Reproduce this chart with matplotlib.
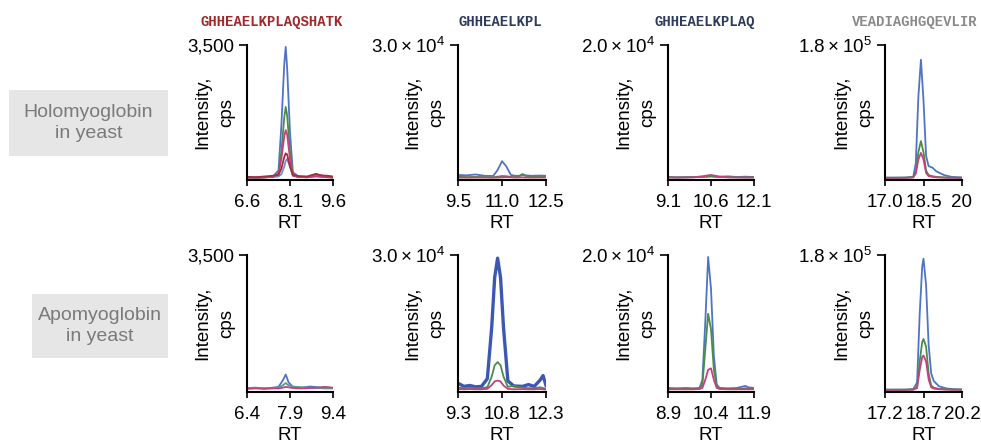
import matplotlib
matplotlib.use('Agg')
import matplotlib.pyplot as plt
from matplotlib.patches import Rectangle

plt.rcParams['font.family'] = ['Liberation Sans', 'DejaVu Sans']
plt.rcParams['mathtext.fontset'] = 'custom'
plt.rcParams['mathtext.rm'] = 'Liberation Sans'

# peptide titles
peptides = ['GHHEAELKPLAQSHATK', 'GHHEAELKPL', 'GHHEAELKPLAQ', 'VEADIAGHGQEVLIR']
peptide_colors = ['#9e2a2b', '#2e3b5e', '#2e3b5e', '#8a8a8a']
row_names = ['Holomyoglobin\nin yeast', 'Apomyoglobin\nin yeast']

# y axis tops and labels
ymax = [3500, 3.0e4, 2.0e4, 1.8e5]
ytop_labels = ['3,500', r'$\mathrm{3.0\times10^{4}}$', r'$\mathrm{2.0\times10^{4}}$',
               r'$\mathrm{1.8\times10^{5}}$']

# x ticks
xticks_holo = [[6.6, 8.1, 9.6], [9.5, 11.0, 12.5], [9.1, 10.6, 12.1], [17.0, 18.5, 20]]
xticks_apo = [[6.4, 7.9, 9.4], [9.3, 10.8, 12.3], [8.9, 10.4, 11.9], [17.2, 18.7, 20.2]]
xlabels_holo = [['6.6', '8.1', '9.6'], ['9.5', '11.0', '12.5'], ['9.1', '10.6', '12.1'], ['17.0', '18.5', '20']]
xlabels_apo = [['6.4', '7.9', '9.4'], ['9.3', '10.8', '12.3'], ['8.9', '10.4', '11.9'], ['17.2', '18.7', '20.2']]

# ---- holomyoglobin traces ----
rt_h1 = [6.6, 6.9, 7.2, 7.5, 7.7, 7.8, 7.9, 7.95, 8.0, 8.1, 8.2, 8.4, 8.7, 9.0, 9.2, 9.4, 9.6]
h1_blue = [20, 10, 15, 40, 200, 1400, 3000, 3450, 2900, 1200, 150, 40, 30, 90, 60, 30, 20]
h1_green = [15, 10, 20, 30, 120, 700, 1600, 1870, 1650, 700, 80, 30, 20, 40, 30, 20, 15]
h1_pink = [10, 10, 15, 30, 100, 500, 1100, 1260, 1150, 500, 60, 25, 20, 50, 40, 20, 10]
h1_red = [30, 20, 40, 60, 80, 250, 550, 650, 620, 300, 80, 50, 40, 110, 70, 60, 40]
h1_blue2 = [20, 15, 20, 30, 40, 100, 300, 450, 500, 300, 60, 30, 20, 60, 40, 30, 20]

rt_h2 = [9.5, 9.8, 10.1, 10.4, 10.7, 10.85, 11.0, 11.15, 11.3, 11.45, 11.6, 11.7, 11.8, 12.0, 12.3, 12.5]
h2_blue = [700, 600, 800, 500, 450, 1800, 3800, 2600, 700, 500, 500, 700, 600, 500, 550, 500]
h2_green = [300, 200, 250, 200, 150, 300, 450, 400, 250, 200, 500, 900, 500, 300, 250, 300]
h2_pink = [100, 80, 100, 100, 80, 100, 150, 200, 150, 100, 120, 150, 100, 90, 100, 100]

rt_h3 = [9.1, 9.4, 9.7, 10.0, 10.3, 10.5, 10.6, 10.7, 10.9, 11.2, 11.5, 11.8, 12.1]
h3_blue = [150, 100, 120, 150, 200, 250, 300, 250, 200, 250, 150, 200, 150]
h3_green = [100, 80, 100, 120, 150, 200, 220, 180, 150, 120, 100, 100, 80]
h3_pink = [80, 60, 80, 100, 250, 400, 450, 380, 200, 100, 80, 60, 80]

rt_h4 = [17.0, 17.4, 17.8, 18.1, 18.2, 18.3, 18.4, 18.5, 18.6, 18.7, 18.85, 19.0, 19.3, 19.6, 20.0]
h4_blue = [500, 500, 600, 1500, 20000, 110000, 160000, 105000, 30000, 16000, 14000, 9000, 4000, 1500, 800]
h4_green = [300, 300, 400, 1000, 8000, 35000, 50000, 35000, 10000, 4000, 2500, 1500, 800, 400, 300]
h4_pink = [200, 200, 300, 800, 6000, 25000, 34000, 25000, 7000, 2500, 1500, 900, 500, 300, 200]

# ---- apomyoglobin traces ----
rt_a1 = [6.4, 6.7, 7.0, 7.3, 7.5, 7.65, 7.75, 7.85, 8.0, 8.3, 8.6, 8.9, 9.1, 9.4]
a1_blue = [50, 60, 40, 60, 80, 250, 400, 200, 80, 60, 90, 70, 60, 50]
a1_green = [40, 50, 40, 50, 60, 120, 180, 120, 90, 70, 60, 50, 40, 40]
a1_pink = [30, 40, 30, 40, 40, 60, 80, 70, 50, 40, 50, 60, 80, 60]

rt_a2 = [9.3, 9.5, 9.7, 9.9, 10.1, 10.3, 10.45, 10.55, 10.65, 10.75, 10.85, 11.0, 11.2, 11.5,
         11.7, 11.9, 12.0, 12.1, 12.2, 12.3]
a2_blue = [1500, 800, 1000, 700, 800, 2500, 14000, 25000, 29300, 25000, 14000, 2000, 900, 800,
           1200, 800, 1500, 2200, 3200, 1000]
a2_green = [500, 400, 500, 400, 400, 600, 3000, 5500, 6200, 5500, 3000, 700, 900, 500,
            400, 400, 500, 600, 400, 300]
a2_pink = [200, 150, 200, 150, 150, 250, 1100, 1900, 2100, 1900, 1000, 250, 150, 200,
           150, 150, 200, 200, 150, 100]

rt_a3 = [8.9, 9.2, 9.5, 9.8, 10.0, 10.1, 10.2, 10.3, 10.4, 10.5, 10.6, 10.7, 11.0, 11.3, 11.5, 11.6, 11.7, 11.9]
a3_blue = [300, 250, 300, 250, 300, 1500, 10000, 19700, 15000, 5000, 800, 300, 250, 300, 500, 600, 400, 300]
a3_green = [150, 150, 150, 150, 200, 800, 6000, 11300, 9000, 3000, 500, 200, 150, 150, 200, 250, 200, 150]
a3_pink = [100, 100, 100, 100, 150, 300, 1500, 3000, 3200, 1500, 300, 150, 100, 100, 100, 100, 100, 100]

rt_a4 = [17.2, 17.6, 18.0, 18.3, 18.45, 18.55, 18.65, 18.7, 18.8, 18.9, 19.0, 19.1, 19.3, 19.6, 19.9, 20.2]
a4_blue = [400, 400, 500, 1000, 10000, 100000, 165000, 175000, 140000, 60000, 22000, 12000, 5000, 2000, 1000, 700]
a4_green = [300, 300, 300, 600, 4000, 38000, 64000, 68000, 58000, 22000, 6000, 3000, 1500, 800, 500, 400]
a4_pink = [200, 200, 200, 500, 2500, 26000, 44000, 46000, 38000, 14000, 3500, 1800, 1000, 500, 300, 300]

BLUE = '#4f74c5'
GREEN = '#4d8b48'
PINK = '#c2417f'
RED = '#a0303a'

holo = [
    [(rt_h1, h1_blue, BLUE), (rt_h1, h1_blue2, '#6f8fd6'), (rt_h1, h1_green, GREEN),
     (rt_h1, h1_pink, PINK), (rt_h1, h1_red, RED)],
    [(rt_h2, h2_blue, BLUE), (rt_h2, h2_green, GREEN), (rt_h2, h2_pink, PINK)],
    [(rt_h3, h3_blue, BLUE), (rt_h3, h3_green, GREEN), (rt_h3, h3_pink, PINK)],
    [(rt_h4, h4_blue, BLUE), (rt_h4, h4_green, GREEN), (rt_h4, h4_pink, PINK)],
]
apo = [
    [(rt_a1, a1_blue, BLUE), (rt_a1, a1_green, '#5e9a8a'), (rt_a1, a1_pink, PINK)],
    [(rt_a2, a2_blue, '#3d58b2'), (rt_a2, a2_green, GREEN), (rt_a2, a2_pink, PINK)],
    [(rt_a3, a3_blue, BLUE), (rt_a3, a3_green, GREEN), (rt_a3, a3_pink, PINK)],
    [(rt_a4, a4_blue, BLUE), (rt_a4, a4_green, GREEN), (rt_a4, a4_pink, PINK)],
]

W, H = 981, 443
fig = plt.figure(figsize=(W / 100, H / 100), dpi=100)

col_left = [247, 458, 668, 885]
col_width = [86, 88, 86, 77]
row_top = [45, 255]
row_bottom = [180, 392]


def panel(left, top, width, bottom):
    return fig.add_axes([left / W, 1 - bottom / H, width / W, (bottom - top) / H])


for r, traces_row in enumerate([holo, apo]):
    xt = xticks_holo if r == 0 else xticks_apo
    xl = xlabels_holo if r == 0 else xlabels_apo
    for c in range(4):
        ax = panel(col_left[c], row_top[r], col_width[c], row_bottom[r])
        for rt, vals, col in traces_row[c]:
            lw = 2.4 if (r == 1 and c == 1 and col == '#3d58b2') else 1.3
            ax.plot(rt, vals, color=col, lw=lw, solid_joinstyle='round')
        ax.set_xlim(xt[c][0], xt[c][-1])
        ax.set_ylim(-0.015 * ymax[c], ymax[c])
        ax.set_xticks(xt[c])
        ax.set_xticklabels(xl[c])
        ax.set_yticks([ymax[c]])
        ax.set_yticklabels([ytop_labels[c]])
        for s in ['top', 'right']:
            ax.spines[s].set_visible(False)
        for s in ['left', 'bottom']:
            ax.spines[s].set_linewidth(1.5)
        ax.tick_params(axis='x', length=4, width=1.2, pad=6, labelsize=13.5)
        ax.tick_params(axis='y', length=6, width=1.2, pad=3, labelsize=13.5)
        ax.set_xlabel('RT', fontsize=13.5, labelpad=3)
        ax.set_ylabel('Intensity,\ncps', fontsize=13.5, linespacing=1.55)
        ax.yaxis.set_label_coords(-0.14, 0.5)

# peptide titles on top row
title_x = [272, 500, 705, 915]
for t, col, x in zip(peptides, peptide_colors, title_x):
    fig.text(x / W, 1 - 22 / H, t, ha='center', va='center', color=col,
             fontsize=10, family='Liberation Mono', fontweight='bold')

# row labels in grey boxes
boxes = [(9, 90, 168, 156), (32, 294, 168, 358)]
for (x0, y0, x1, y1), name in zip(boxes, row_names):
    fig.patches.append(Rectangle((x0 / W, 1 - y1 / H), (x1 - x0) / W, (y1 - y0) / H,
                                 transform=fig.transFigure, facecolor='#e6e6e6',
                                 edgecolor='none', zorder=0))
    fig.text((x0 + x1) / 2 / W, 1 - (y0 + y1) / 2 / H, name, ha='center', va='center',
             fontsize=14, color='#7a7a7a', linespacing=1.3)

fig.savefig('out.png', dpi=100)
